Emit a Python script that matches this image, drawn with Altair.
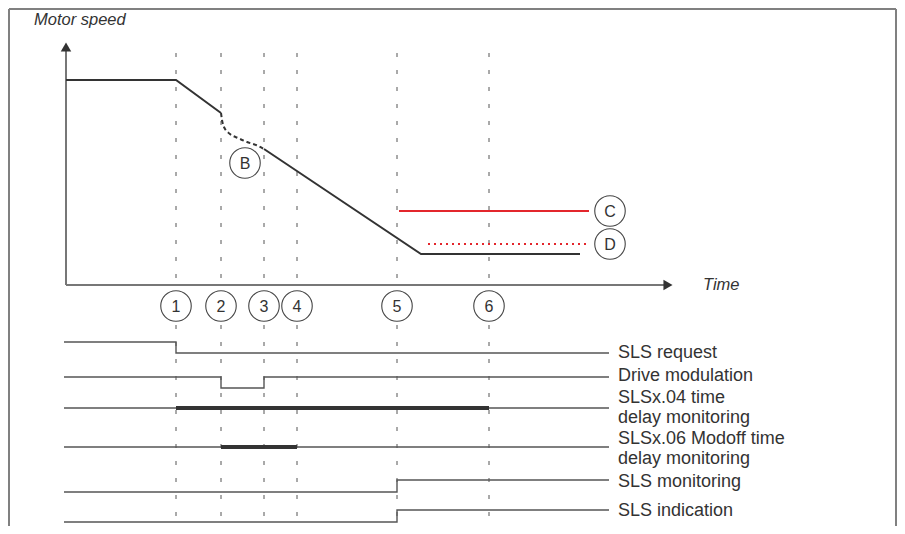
import altair as alt
import pandas as pd

W, H = 889, 518

# ---- data (diagram units: t = time position, y = vertical position, downwards) ----
event_labels = ["1", "2", "3", "4", "5", "6"]
event_t = [176, 221, 264, 297, 397, 489]
event_circle_y = 306
dash_top, dash_bottom = 53, 526

# Motor speed curve
seg1_t = [66, 176, 221]
seg1_y = [80, 80, 113]
segB_t = [221, 222, 224, 230, 238, 247, 256, 264]
segB_y = [113, 120, 127, 134, 138, 142, 145, 149]
seg2_t = [264, 421, 580]
seg2_y = [149, 254, 254]

# limits C (solid red) and D (dotted red)
limC_t = [399, 589]
limC_y = 211
limD_t = [428, 589]
limD_y = 244

# letter markers
letters = ["B", "C", "D"]
letters_t = [245, 610, 610]
letters_y = [163, 211, 244]

# axes
speed_axis_t = 66
speed_axis_y = [285, 50]
time_axis_y = 285
time_axis_t = [66, 664]

# signals (step traces)
signals = {
    "SLS request": ([64, 176, 176, 609], [342, 342, 353, 353]),
    "Drive modulation": ([64, 221, 221, 264, 264, 609], [377, 377, 388, 388, 377, 377]),
    "SLSx.04": ([64, 609], [408, 408]),
    "SLSx.06": ([64, 609], [447, 447]),
    "SLS monitoring": ([64, 397, 397, 609], [492, 492, 480, 480]),
    "SLS indication": ([64, 397, 397, 609], [522, 522, 510, 510]),
}
thick_t = [(176, 489), (221, 297)]
thick_y = [408, 447]

label_texts = ["SLS request", "Drive modulation", "SLSx.04 time", "delay monitoring",
               "SLSx.06 Modoff time", "delay monitoring", "SLS monitoring", "SLS indication"]
label_y = [353, 376, 398, 418, 439, 459, 482, 511]
label_t = 618

# ---- scales ----
xs = alt.Scale(domain=[8, 8 + W], range=[0, W], nice=False, zero=False)
ys = alt.Scale(domain=[8, 8 + H], reverse=True, nice=False, zero=False)


def X(f="t"):
    return alt.X(f"{f}:Q", scale=xs, axis=None)


def Y(f="y"):
    return alt.Y(f"{f}:Q", scale=ys, axis=None)


DARK = "#333333"
GREY = "#555555"
RED = "#e3262c"

# frame
frame_df = pd.DataFrame({"t": [9, 9, 896], "t2": [9, 896, 896],
                         "y": [9, 9, 9], "y2": [526, 9, 526]})
frame = alt.Chart(frame_df).mark_rule(color="#808080", strokeWidth=2).encode(
    x=X(), x2="t2:Q", y=Y(), y2="y2:Q")

# event dashed lines
ev_df = pd.DataFrame({"t": event_t, "y": [dash_top] * 6, "y2": [dash_bottom] * 6,
                      "lab": event_labels})
ev_lines = alt.Chart(ev_df).mark_rule(color="#555555", strokeWidth=1,
                                       strokeDash=[4, 13]).encode(
    x=X(), y=Y(), y2="y2:Q")

# axes
ax_df = pd.DataFrame({"t": [speed_axis_t, time_axis_t[0]],
                      "t2": [speed_axis_t, time_axis_t[1]],
                      "y": [speed_axis_y[0], time_axis_y],
                      "y2": [speed_axis_y[1], time_axis_y]})
axes = alt.Chart(ax_df).mark_rule(color="#777777", strokeWidth=2).encode(
    x=X(), x2="t2:Q", y=Y(), y2="y2:Q")
arr_df = pd.DataFrame({"t": [speed_axis_t, time_axis_t[1] + 4],
                       "y": [speed_axis_y[1] - 3, time_axis_y],
                       "shape": ["triangle-up", "triangle-right"]})
arrows = alt.Chart(arr_df).mark_point(filled=True, size=110, color=DARK, opacity=1).encode(
    x=X(), y=Y(), shape=alt.Shape("shape:N", scale=None, legend=None))

# speed curve
rows = []
for name, ts, yv in [("s1", seg1_t, seg1_y), ("s2", seg2_t, seg2_y)]:
    for i, (t, y) in enumerate(zip(ts, yv)):
        rows.append({"seg": name, "t": t, "y": y, "o": i})
speed_df = pd.DataFrame(rows)
speed = alt.Chart(speed_df).mark_line(color=DARK, strokeWidth=2).encode(
    x=X(), y=Y(), detail="seg:N", order="o:Q")
segB_df = pd.DataFrame({"t": segB_t, "y": segB_y, "o": range(len(segB_t))})
speedB = alt.Chart(segB_df).mark_line(color=DARK, strokeWidth=2, strokeDash=[4, 3],
                                       interpolate="monotone").encode(
    x=X(), y=Y(), order="o:Q")

# limits
limC = alt.Chart(pd.DataFrame({"t": [limC_t[0]], "t2": [limC_t[1]], "y": [limC_y]})).mark_rule(
    color=RED, strokeWidth=2).encode(x=X(), x2="t2:Q", y=Y())
limD = alt.Chart(pd.DataFrame({"t": [limD_t[0]], "t2": [limD_t[1]], "y": [limD_y]})).mark_rule(
    color=RED, strokeWidth=2, strokeDash=[2, 4]).encode(x=X(), x2="t2:Q", y=Y())

# signals
rows = []
for name, (ts, yv) in signals.items():
    for i, (t, y) in enumerate(zip(ts, yv)):
        rows.append({"sig": name, "t": t, "y": y, "o": i})
sig_df = pd.DataFrame(rows)
sig = alt.Chart(sig_df).mark_line(color=GREY, strokeWidth=1.4).encode(
    x=X(), y=Y(), detail="sig:N", order="o:Q")
thick_df = pd.DataFrame({"t": [a for a, b in thick_t], "t2": [b for a, b in thick_t],
                         "y": thick_y})
thick = alt.Chart(thick_df).mark_rule(color=DARK, strokeWidth=4).encode(
    x=X(), x2="t2:Q", y=Y())

# circles with labels
circ_df = pd.DataFrame({
    "t": event_t + letters_t,
    "y": [event_circle_y] * 6 + letters_y,
    "lab": event_labels + letters,
})
circles = alt.Chart(circ_df).mark_point(shape="circle", size=930, filled=False,
                                         fill="white", fillOpacity=1, stroke="#444444",
                                         strokeWidth=1.1, opacity=1).encode(x=X(), y=Y())
circ_txt = alt.Chart(circ_df).mark_text(font="Liberation Sans", fontSize=16, color=DARK,
                                         baseline="middle", align="center", dy=1).encode(
    x=X(), y=Y(), text="lab:N")

# labels
lab_df = pd.DataFrame({"t": [label_t] * len(label_texts), "y": label_y, "txt": label_texts})
labels = alt.Chart(lab_df).mark_text(font="Liberation Sans", fontSize=18, color=DARK,
                                      align="left", baseline="middle").encode(
    x=X(), y=Y(), text="txt:N")

ttl_df = pd.DataFrame({"t": [34, 703], "y": [20, 285], "txt": ["Motor speed", "Time"]})
titles = alt.Chart(ttl_df).mark_text(font="Liberation Sans", fontSize=16.5, fontStyle="italic",
                                      color=DARK, align="left", baseline="middle").encode(
    x=X(), y=Y(), text="txt:N")

chart = alt.layer(frame, ev_lines, axes, arrows, speed, speedB, limC, limD, sig, thick,
                  circles, circ_txt, labels, titles).properties(
    width=W, height=H, autosize=alt.AutoSizeParams(type="none"), padding=0
).configure_view(stroke=None)

chart.save("out.html", embed_options={"renderer": "svg", "actions": False})
